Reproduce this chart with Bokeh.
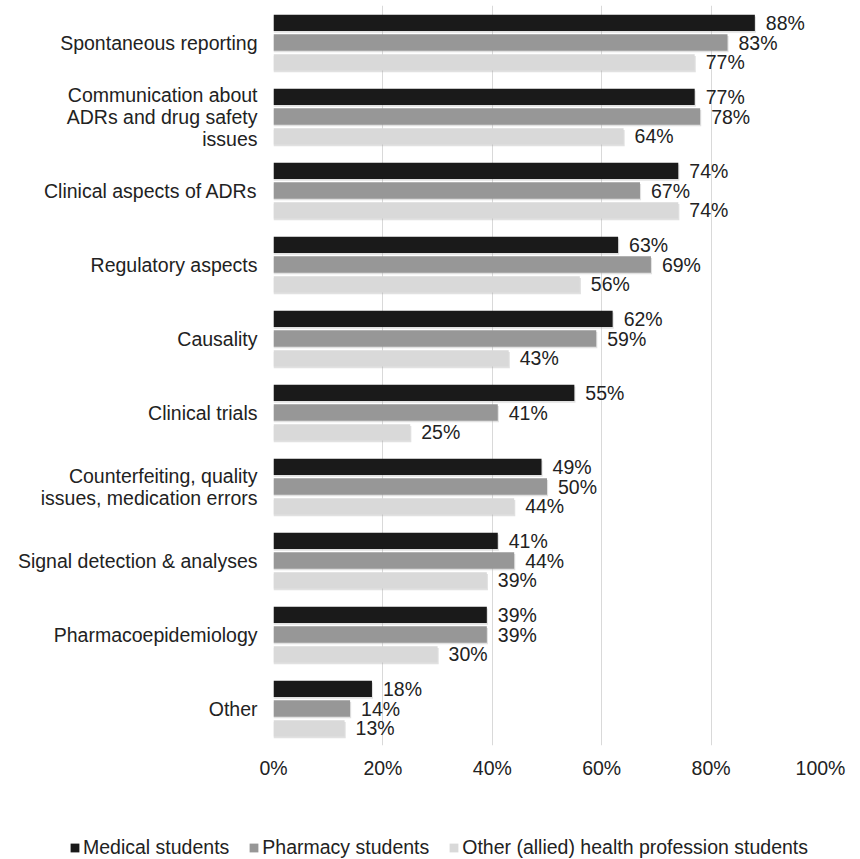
from bokeh.plotting import figure
from bokeh.layouts import column
from bokeh.models import (ColumnDataSource, FactorRange, Range1d, FixedTicker,
                          NumeralTickFormatter, Legend, LegendItem)
from bokeh.transform import dodge
from bokeh.core.properties import value
from bokeh.embed import file_html
from bokeh.resources import INLINE

categories = [
    "Spontaneous reporting",
    "Communication about\nADRs and drug safety\nissues",
    "Clinical aspects of ADRs",
    "Regulatory aspects",
    "Causality",
    "Clinical trials",
    "Counterfeiting, quality\nissues, medication errors",
    "Signal detection & analyses",
    "Pharmacoepidemiology",
    "Other",
]
medical = [0.88, 0.77, 0.74, 0.63, 0.62, 0.55, 0.49, 0.41, 0.39, 0.18]
pharmacy = [0.83, 0.78, 0.67, 0.69, 0.59, 0.41, 0.50, 0.44, 0.39, 0.14]
allied = [0.77, 0.64, 0.74, 0.56, 0.43, 0.25, 0.44, 0.39, 0.30, 0.13]
series_names = ["Medical students", "Pharmacy students",
                "Other (allied) health profession students"]
x_ticks = [0, 0.2, 0.4, 0.6, 0.8, 1.0]

FONT = "Liberation Sans"
FS = "19.5px"
TXT = "#222222"
colors = ["#1a1a1a", "#979797", "#d9d9d9"]
offsets = [0.264, 0.0, -0.27]
bar_h = 0.22
keys = ["medical", "pharmacy", "allied"]

src = ColumnDataSource(dict(
    cat=categories,
    medical=medical, pharmacy=pharmacy, allied=allied,
    medical_lbl=[f"{round(v*100)}%" for v in medical],
    pharmacy_lbl=[f"{round(v*100)}%" for v in pharmacy],
    allied_lbl=[f"{round(v*100)}%" for v in allied],
))

p = figure(width=860, height=830,
           y_range=FactorRange(factors=list(reversed(categories))),
           x_range=Range1d(0, 1),
           output_backend="svg", toolbar_location=None,
           min_border_left=273, min_border_right=40,
           min_border_top=5, min_border_bottom=85)
p.outline_line_color = None
p.background_fill_color = "white"
p.border_fill_color = "white"

for key, col, off in zip(keys, colors, offsets):
    ycol = dodge("cat", off, range=p.y_range)
    # soft drop shadow
    p.hbar(y=dodge("cat", off - 0.022, range=p.y_range), right=dodge(key, 0.002), left=0,
           height=bar_h, source=src, fill_color="#aaaaaa", fill_alpha=0.35, line_color=None)
    p.hbar(y=ycol, right=key, left=0, height=bar_h, source=src,
           fill_color=col, line_color=None)
    p.text(x=key, y=ycol, text=key + "_lbl", source=src, x_offset=11,
           text_font=value(FONT), text_font_size=FS, text_color=TXT,
           text_align="left", text_baseline="middle")

p.xaxis.ticker = FixedTicker(ticks=x_ticks)
p.xaxis.formatter = NumeralTickFormatter(format="0%")
p.xaxis.axis_line_color = None
p.xaxis.major_tick_line_color = None
p.xaxis.minor_tick_line_color = None
p.xaxis.major_label_standoff = 5
p.xaxis.major_label_text_font = FONT
p.xaxis.major_label_text_font_size = FS
p.xaxis.major_label_text_color = TXT

p.yaxis.axis_line_color = None
p.yaxis.major_tick_line_color = None
p.yaxis.minor_tick_line_color = None
p.yaxis.major_label_standoff = 10
p.yaxis.major_label_text_font = FONT
p.yaxis.major_label_text_font_size = FS
p.yaxis.major_label_text_color = TXT
p.yaxis.major_label_text_line_height = 1.0

p.xgrid.ticker = FixedTicker(ticks=x_ticks)
p.xgrid.grid_line_color = "#d9d9d9"
p.xgrid.grid_line_width = 1
p.ygrid.grid_line_color = None

# legend strip below the chart
lg = figure(width=860, height=29, x_range=Range1d(0, 1), y_range=Range1d(0, 1),
            x_axis_type=None, y_axis_type=None,
            output_backend="svg", toolbar_location=None,
            min_border_left=0, min_border_right=0, min_border_top=0, min_border_bottom=0)
lg.outline_line_color = None
lg.border_fill_color = "white"
lg.background_fill_color = "white"
# legend swatches use a renderer whose data lies outside the strip's visible range
swatch = ColumnDataSource(dict(y=[0.5], left=[5], right=[6]))
items = []
for name, col in zip(series_names, colors):
    r = lg.hbar(y="y", right="right", left="left", height=0.5, source=swatch,
                fill_color=col, line_color=None)
    items.append(LegendItem(label=name, renderers=[r]))
legend = Legend(items=items, orientation="horizontal", location=(69, 0),
                glyph_width=11, glyph_height=11, label_standoff=3, spacing=19,
                padding=0, margin=0, border_line_color=None,
                background_fill_alpha=0,
                label_text_font=FONT, label_text_font_size=FS,
                label_text_color=TXT, label_height=20)
lg.add_layout(legend)

layout = column(p, column(lg, spacing=0), spacing=0)
open("out.html", "w").write(file_html(layout, INLINE))
